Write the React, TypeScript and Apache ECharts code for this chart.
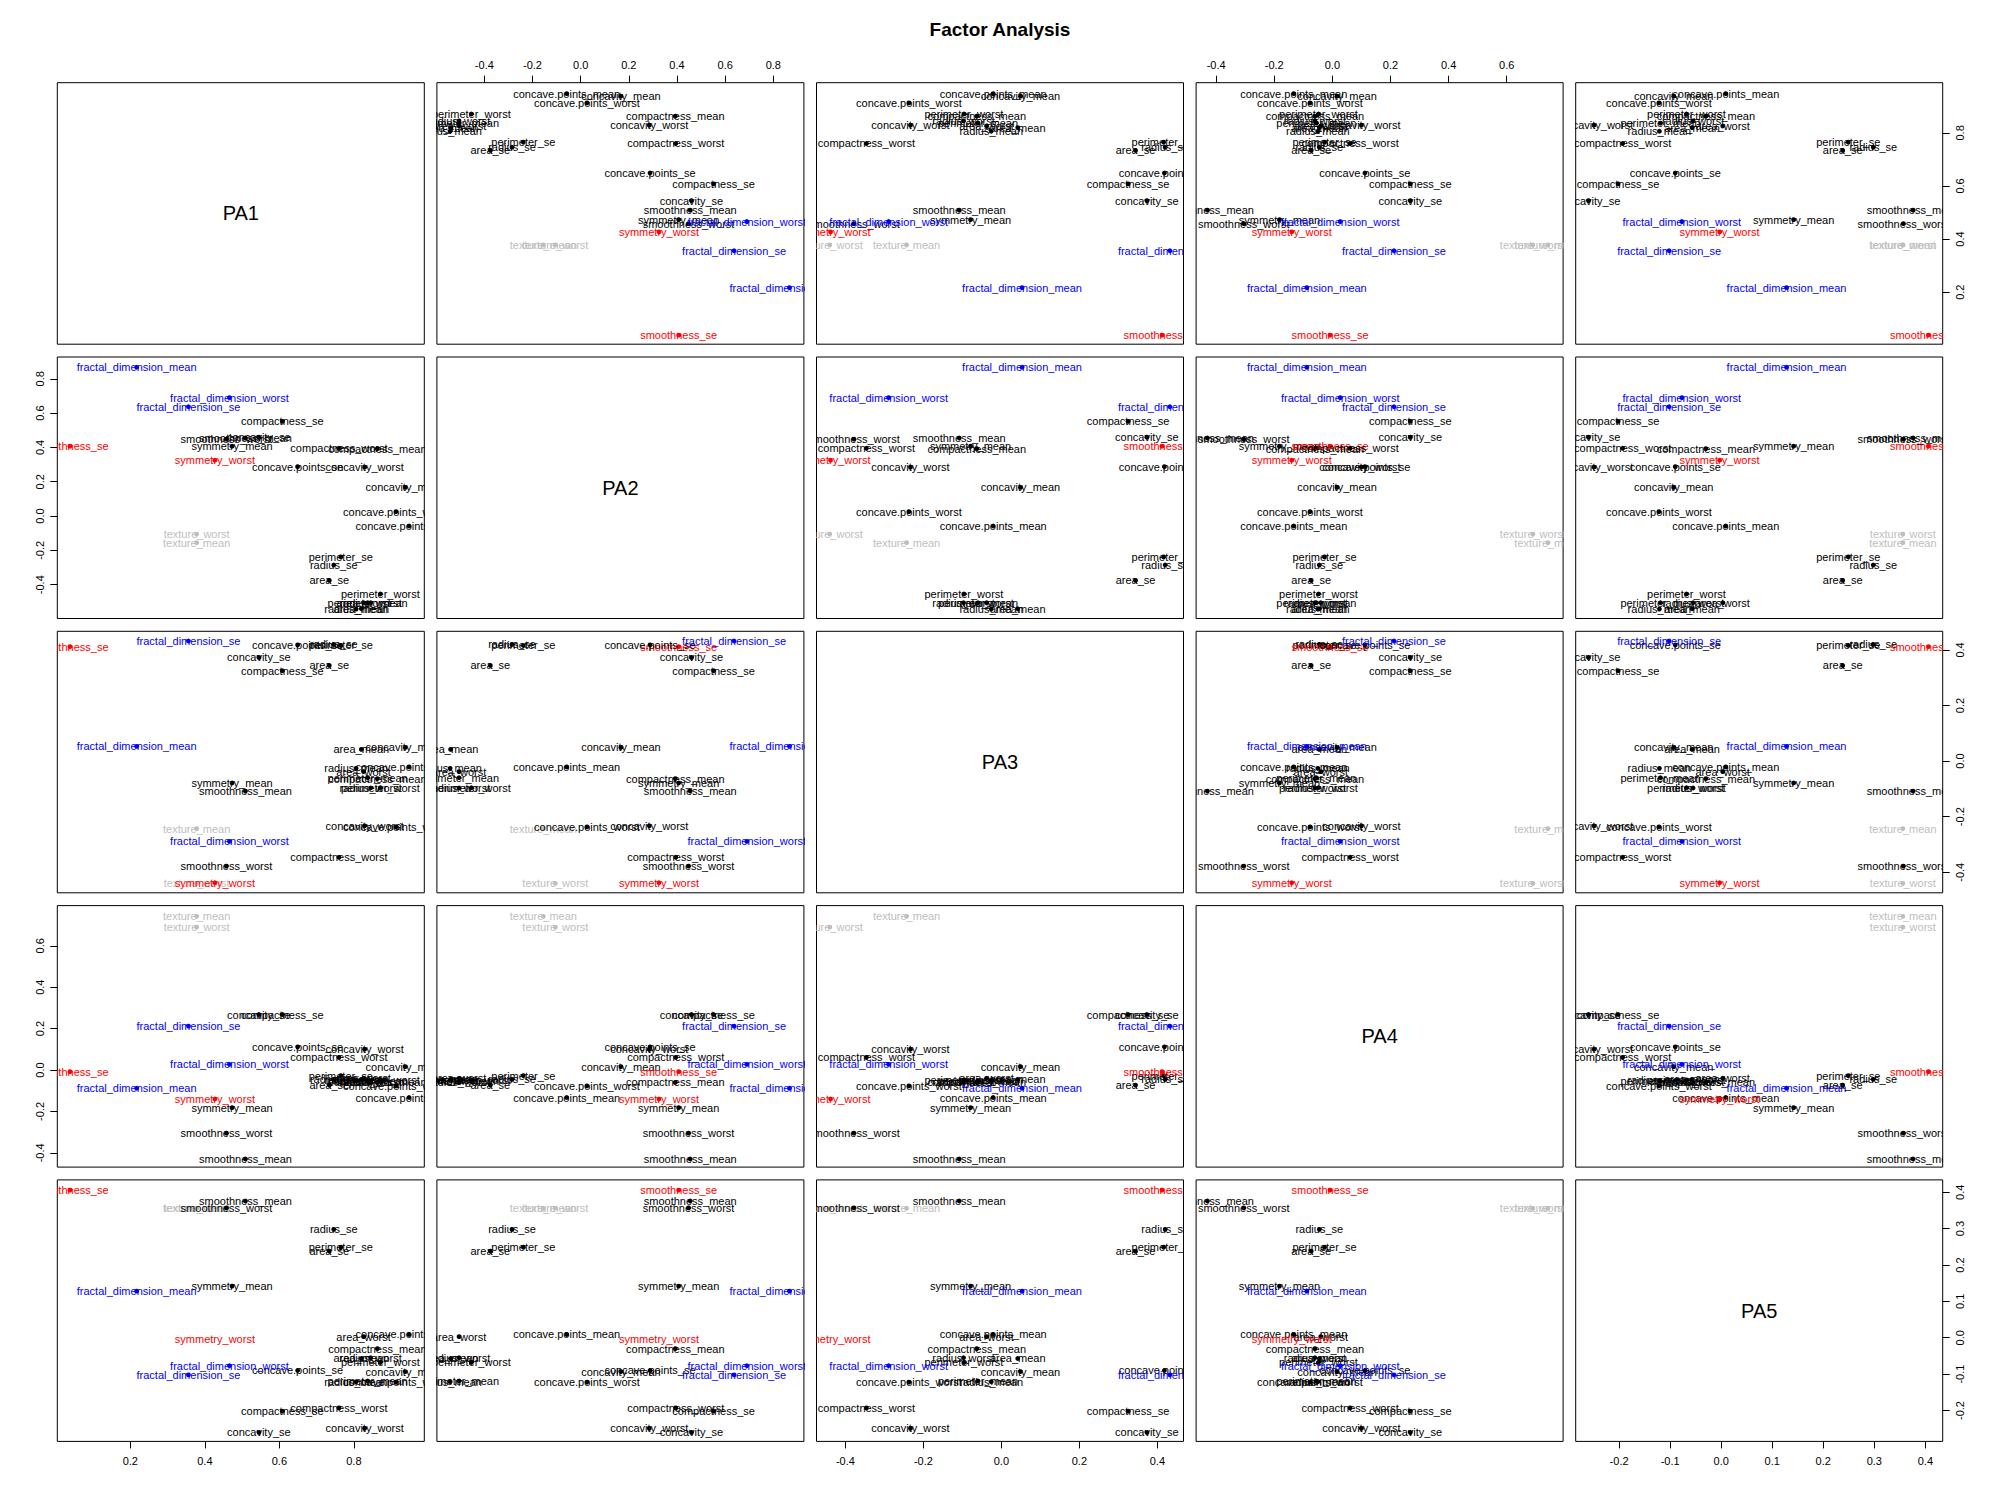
import React, { useEffect, useRef } from "react";
import * as echarts from "echarts";

const varNames = [
  "radius_mean", "texture_mean", "perimeter_mean", "area_mean", "smoothness_mean",
  "compactness_mean", "concavity_mean", "concave.points_mean", "symmetry_mean", "fractal_dimension_mean",
  "radius_se", "perimeter_se", "area_se", "smoothness_se", "compactness_se",
  "concavity_se", "concave.points_se", "fractal_dimension_se",
  "radius_worst", "texture_worst", "perimeter_worst", "area_worst", "smoothness_worst",
  "compactness_worst", "concavity_worst", "concave.points_worst", "symmetry_worst", "fractal_dimension_worst",
];

const pa1 = [0.806, 0.378, 0.837, 0.82, 0.509, 0.863, 0.938, 0.948, 0.473, 0.217,
  0.746, 0.765, 0.734, 0.038, 0.608, 0.545, 0.649, 0.356,
  0.845, 0.378, 0.871, 0.826, 0.458, 0.76, 0.829, 0.913, 0.427, 0.466];
const pa2 = [-0.542, -0.155, -0.505, -0.54, 0.455, 0.393, 0.167, -0.058, 0.407, 0.867,
  -0.285, -0.238, -0.375, 0.407, 0.552, 0.46, 0.288, 0.637,
  -0.505, -0.105, -0.454, -0.505, 0.448, 0.395, 0.285, 0.026, 0.325, 0.69];
const pa3 = [-0.026, -0.243, -0.06, 0.042, -0.108, -0.063, 0.049, -0.021, -0.079, 0.053,
  0.42, 0.416, 0.344, 0.412, 0.325, 0.373, 0.418, 0.432,
  -0.097, -0.44, -0.096, -0.038, -0.378, -0.346, -0.233, -0.237, -0.438, -0.289];
const pa4 = [-0.05, 0.742, -0.055, -0.045, -0.43, -0.06, 0.016, -0.133, -0.182, -0.088,
  -0.045, -0.027, -0.073, -0.008, 0.268, 0.268, 0.112, 0.212,
  -0.06, 0.69, -0.048, -0.04, -0.305, 0.061, 0.1, -0.077, -0.14, 0.027];
const pa5 = [-0.121, 0.356, -0.119, -0.057, 0.376, -0.03, -0.093, 0.009, 0.142, 0.128,
  0.298, 0.249, 0.238, 0.406, -0.202, -0.26, -0.09, -0.102,
  -0.055, 0.356, -0.068, 0.003, 0.357, -0.193, -0.249, -0.122, -0.003, -0.077];

const labelColors = [
  "#000000", "#BEBEBE", "#000000", "#000000", "#000000",
  "#000000", "#000000", "#000000", "#000000", "#0000FF",
  "#000000", "#000000", "#000000", "#FF0000", "#000000",
  "#000000", "#000000", "#0000FF",
  "#000000", "#BEBEBE", "#000000", "#000000", "#000000",
  "#000000", "#000000", "#000000", "#FF0000", "#0000FF",
];

const factorNames = ["PA1", "PA2", "PA3", "PA4", "PA5"];
const factorRanges = [
  [0.004, 0.989],
  [-0.597, 0.927],
  [-0.474, 0.467],
  [-0.469, 0.794],
  [-0.285, 0.434],
];
const factorTicks = [
  [0.2, 0.4, 0.6, 0.8],
  [-0.4, -0.2, 0, 0.2, 0.4, 0.6, 0.8],
  [-0.4, -0.2, 0, 0.2, 0.4],
  [-0.4, -0.2, 0, 0.2, 0.4, 0.6],
  [-0.2, -0.1, 0, 0.1, 0.2, 0.3, 0.4],
];
const titleText = "Factor Analysis";

const FONT = '"Liberation Sans", Arial, sans-serif';

export default function App() {
  const ref = useRef<HTMLDivElement>(null);
  useEffect(() => {
    if (!ref.current) return;
    const chart = echarts.init(ref.current, null, { renderer: "svg" });
    const loadings = [pa1, pa2, pa3, pa4, pa5];
    const grids: any[] = [];
    const xAxes: any[] = [];
    const yAxes: any[] = [];
    const series: any[] = [];
    const graphics: any[] = [];
    const W = 367;
    const H = 261.5;
    const fmt = (v: number) => v.toFixed(1);
    for (let i = 0; i < 5; i++) {
      for (let j = 0; j < 5; j++) {
        const k = i * 5 + j;
        const left = 57.3 + 379.6 * j;
        const top = 82.7 + 274.3 * i;
        grids.push({
          left, top, width: W, height: H, show: true,
          borderColor: "#000", borderWidth: 1, backgroundColor: "rgba(0,0,0,0)",
        });
        const showX = (i === 0 && (j === 1 || j === 3)) || (i === 4 && j % 2 === 0);
        const showY = (j === 0 && (i === 1 || i === 3)) || (j === 4 && i % 2 === 0);
        xAxes.push({
          type: "value", gridIndex: k,
          min: factorRanges[j][0], max: factorRanges[j][1],
          position: i === 0 ? "top" : "bottom",
          axisLine: { show: false, onZero: false }, splitLine: { show: false },
          axisTick: { show: showX, length: 7, lineStyle: { color: "#000" }, customValues: factorTicks[j] },
          axisLabel: { show: showX, customValues: factorTicks[j], formatter: fmt, margin: i === 0 ? 12 : 14, color: "#000", fontSize: 11, fontFamily: FONT },
        });
        yAxes.push({
          type: "value", gridIndex: k,
          min: factorRanges[i][0], max: factorRanges[i][1],
          position: j === 0 ? "left" : "right",
          axisLine: { show: false, onZero: false }, splitLine: { show: false },
          axisTick: { show: showY, length: 7, lineStyle: { color: "#000" }, customValues: factorTicks[i] },
          axisLabel: { show: showY, rotate: 90, customValues: factorTicks[i], formatter: fmt, margin: 12, color: "#000", fontSize: 11, fontFamily: FONT },
        });
        if (i === j) {
          graphics.push({
            type: "text", x: left + W / 2, y: top + H / 2,
            style: {
              text: factorNames[i], font: `20px ${FONT}`, fill: "#000",
              textAlign: "center", textVerticalAlign: "middle", align: "center", verticalAlign: "middle",
            },
          });
        } else {
          const xs = loadings[j];
          const ys = loadings[i];
          series.push({
            type: "custom",
            xAxisIndex: k, yAxisIndex: k,
            clip: true, silent: true,
            dimensions: ["x", "y", "idx"],
            encode: { x: 0, y: 1 },
            data: varNames.map((_, n) => [xs[n], ys[n], n]),
            renderItem: (params: any, api: any) => {
              const p = api.coord([api.value(0), api.value(1)]);
              const idx = api.value(2);
              const c = labelColors[idx];
              return {
                type: "group",
                children: [
                  {
                    type: "text", x: p[0], y: p[1],
                    style: {
                      text: varNames[idx], fill: c, font: `11px ${FONT}`,
                      textAlign: "center", textVerticalAlign: "middle", align: "center", verticalAlign: "middle",
                    },
                  },
                  { type: "circle", shape: { cx: p[0], cy: p[1], r: 2.4 }, style: { fill: c } },
                ],
              };
            },
          });
        }
      }
    }
    chart.setOption({
      animation: false,
      backgroundColor: "#fff",
      title: {
        text: titleText, left: "center", top: 15,
        textStyle: { fontSize: 19, fontWeight: "bold", fontFamily: FONT, color: "#000" },
      },
      grid: grids, xAxis: xAxes, yAxis: yAxes, series, graphic: graphics,
    });
    return () => chart.dispose();
  }, []);
  return <div ref={ref} style={{ position: "absolute", left: 0, top: 0, width: 2000, height: 1500 }} />;
}
